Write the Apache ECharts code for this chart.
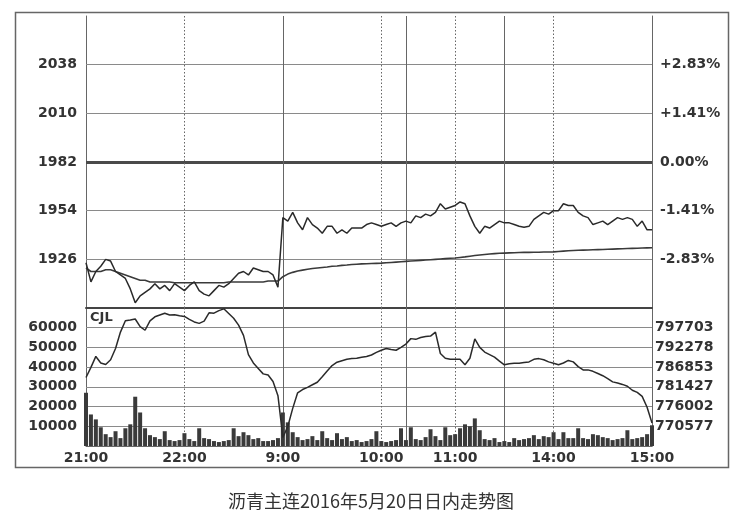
<!DOCTYPE html>
<html>
<head>
<meta charset="utf-8">
<script src="https://cdn.jsdelivr.net/npm/echarts@6/dist/echarts.min.js"></script>
<style>html,body{margin:0;padding:0;background:#fff;}#c{width:755px;height:522px;}</style>
</head>
<body>
<div id="c"></div>
<script>
// ---- sessions (start time, number of 3-minute points) ----
const sessions = [['21:00', 40], ['9:00', 25], ['10:30', 20], ['13:30', 31]];
const stepMin = 3;

// ---- tick labels ----
const xTickLabels = ['21:00', '22:00', '9:00', '10:00', '11:00', '14:00', '15:00'];
const solidLines = ['9:00', '10:30', '13:30'];
const dottedLines = ['22:00', '10:00', '11:00', '14:00'];
const priceTicks = [1926, 1954, 1982, 2010, 2038];
const basePrice = 1982;
const volTicks = [10000, 20000, 30000, 40000, 50000, 60000];
const oiTicks = [770577, 776002, 781427, 786853, 792278, 797703];

// ---- series values (3-minute points) ----
const price = [
1924,1913,1919,1922,1926,1925,1919,1917,1915,1909,
1901,1905,1907,1909,1912,1909,1911,1908,1912,1910,
1908,1911,1913,1908,1906,1905,1908,1911,1910,1912,
1915,1918,1919,1917,1921,1920,1919,1919,1917,1910,
1950,1948,1953,1947,1943,1950,1946,1944,1941,1945,
1945,1941,1943,1941,1944,1944,1944,1946,1947,1946,
1945,1946,1947,1945,1947,1948,1947,1951,1950,1952,
1951,1953,1958,1955,1956,1957,1959,1958,1951,1945,
1941,1945,1944,1946,1948,1947,1947,1946,1945,1944.5,
1945,1949,1951,1953,1952,1954,1954,1958,1957,1957,
1953,1951,1950,1946,1947,1948,1946,1948,1950,1949,
1950,1949,1945,1948,1943,1943
];
const avgPrice = [
1921,1919,1919,1919,1920,1920,1919,1918,1917,1916,
1915,1914,1914,1913,1913,1913,1913,1913,1912.5,1912.5,
1912.5,1912.5,1912.5,1912.5,1912.5,1912.5,1912.5,1912.5,1912.5,1913,
1913,1913,1913,1913,1913,1913,1913,1913.5,1913.5,1913.5,
1916,1917.5,1918.5,1919.3,1919.8,1920.3,1920.7,1921,1921.3,1921.6,
1922,1922.2,1922.5,1922.7,1923,1923.2,1923.4,1923.5,1923.6,1923.7,
1923.8,1924,1924.2,1924.4,1924.6,1924.8,1925,1925.2,1925.4,1925.6,
1925.8,1926,1926.2,1926.4,1926.6,1926.8,1927.1,1927.4,1927.8,1928.2,
1928.5,1928.8,1929.1,1929.3,1929.5,1929.6,1929.7,1929.8,1929.9,1930,
1930,1930.1,1930.1,1930.2,1930.2,1930.3,1930.5,1930.7,1930.9,1931.1,
1931.2,1931.3,1931.4,1931.5,1931.6,1931.7,1931.8,1931.9,1932,1932.1,
1932.2,1932.3,1932.4,1932.5,1932.6,1932.7
];
const volume = [
27000,16000,13500,9500,6000,4500,7500,4000,9000,11000,
25000,17000,9000,5500,4500,3500,7500,3000,2500,3000,
6500,3500,2500,9000,4000,3500,2500,2000,2500,3000,
9000,5000,7000,5500,3500,4000,2500,2500,3000,4000,
17000,12000,7000,4500,3000,3500,5000,3000,7500,4000,
3000,6500,3500,4500,2500,3000,2000,2500,3500,7500,
2500,2000,2500,3000,9000,3000,9500,3500,3000,4500,
8500,5000,3000,9500,5500,6000,9000,11000,10000,14000,
8000,3500,3000,4000,2000,2500,2000,4000,3000,3500,
4000,5500,3500,5000,4500,7000,3500,7000,4000,4000,
9000,4000,3500,6000,5500,4500,4000,3000,3500,4000,
8000,3500,4000,4500,6000,10500
];
const openInterest = [
784000,786800,789800,788000,787600,788900,792000,796500,799600,799800,
800100,798000,797000,799600,800700,801200,801700,801200,801300,801000,
800800,800000,799300,798900,799500,801800,801700,802400,802900,801600,
800300,798400,795600,790300,788000,786500,785000,784700,782900,779000,
767500,770500,775500,779800,780700,781300,782000,782700,784200,785800,
787300,788200,788600,789000,789200,789300,789600,789800,790200,790900,
791500,792000,791700,791500,792300,793200,794700,794500,795000,795300,
795400,796500,790600,789300,789000,789000,789000,787500,789300,794600,
792300,791000,790300,789600,788500,787500,787800,787900,787900,788100,
788300,789000,789200,788900,788300,787900,787500,788000,788700,788300,
787000,786100,786100,785700,785100,784500,783700,782800,782500,782100,
781600,780500,779900,778800,775800,771500
];

// ---- build time categories from the sessions ----
const categories = [];
sessions.forEach(([start, n]) => {
  let [h, m] = start.split(':').map(Number);
  let t = h * 60 + m;
  for (let k = 0; k < n; k++) {
    const mm = t + k * stepMin;
    const hh = Math.floor(mm / 60), mi = mm % 60;
    categories.push(hh + ':' + (mi < 10 ? '0' : '') + mi);
  }
});

const priceStep = priceTicks[1] - priceTicks[0];
const volStep = volTicks[1] - volTicks[0];
const oiStep = (oiTicks[oiTicks.length - 1] - oiTicks[0]) / (oiTicks.length - 1);

const labelFont = { fontFamily: 'DejaVu Sans', fontWeight: 'bold', fontSize: 14, color: '#333' };
const gridLine = { color: '#8a8a8a', width: 1, type: 'solid' };
const vLineSolid = { color: '#666', width: 1, type: 'solid' };
const vLineDot = { color: '#666', width: 1, type: [1.5, 2] };

function vLines() {
  return [
    ...solidLines.map(c => ({ xAxis: categories.indexOf(c), lineStyle: vLineSolid })),
    ...dottedLines.map(c => ({ xAxis: categories.indexOf(c), lineStyle: vLineDot }))
  ];
}

const chart = echarts.init(document.getElementById('c'), null, { renderer: 'canvas' });
const option = {
  animation: false,
  backgroundColor: '#fff',
  grid: [
    { left: 86, top: 16, width: 566, height: 292 },
    { left: 86, top: 308, width: 566, height: 138 }
  ],
  xAxis: [
    {
      type: 'category', gridIndex: 0, data: categories, boundaryGap: false,
      axisLine: { show: true, onZero: false, lineStyle: { color: '#444', width: 2 } },
      axisTick: { show: false }, axisLabel: { show: false }, splitLine: { show: false }
    },
    {
      type: 'category', gridIndex: 1, data: categories, boundaryGap: false,
      axisLine: { show: true, onZero: false, lineStyle: { color: '#666', width: 1 } },
      axisTick: { show: false },
      axisLabel: Object.assign({ interval: (i, v) => xTickLabels.includes(v), margin: 5, hideOverlap: false }, labelFont),
      splitLine: { show: false }
    }
  ],
  yAxis: [
    {
      type: 'value', gridIndex: 0, position: 'left', min: priceTicks[0] - priceStep, max: priceTicks[priceTicks.length - 1] + priceStep, interval: priceStep,
      axisLine: { show: true, lineStyle: { color: '#666' } }, axisTick: { show: false }, splitLine: { show: false },
      axisLabel: Object.assign({ margin: 9, formatter: v => priceTicks.includes(Math.round(v)) ? String(Math.round(v)) : '' }, labelFont)
    },
    {
      type: 'value', gridIndex: 0, position: 'right', min: priceTicks[0] - priceStep, max: priceTicks[priceTicks.length - 1] + priceStep, interval: priceStep,
      axisLine: { show: true, lineStyle: { color: '#666' } }, axisTick: { show: false }, splitLine: { show: false },
      axisLabel: Object.assign({
        margin: 8,
        formatter: v => {
          const r = Math.round(v);
          if (!priceTicks.includes(r)) return '';
          const p = (r - basePrice) / basePrice * 100;
          return (p > 0 ? '+' : '') + p.toFixed(2) + '%';
        }
      }, labelFont)
    },
    {
      type: 'value', gridIndex: 1, position: 'left', min: 0, max: volTicks[volTicks.length - 1] + volStep, interval: volStep,
      axisLine: { show: true, lineStyle: { color: '#666' } }, axisTick: { show: false }, splitLine: { show: false },
      axisLabel: Object.assign({ margin: 9, formatter: v => volTicks.includes(Math.round(v)) ? String(Math.round(v)) : '' }, labelFont)
    },
    {
      type: 'value', gridIndex: 1, position: 'right', min: oiTicks[0] - oiStep, max: oiTicks[oiTicks.length - 1] + oiStep, interval: oiStep,
      axisLine: { show: true, lineStyle: { color: '#666' } }, axisTick: { show: false }, splitLine: { show: false },
      axisLabel: Object.assign({
        margin: 3,
        formatter: v => {
          const t = oiTicks.find(x => Math.abs(x - v) < oiStep / 4);
          return t !== undefined ? String(t) : '';
        }
      }, labelFont)
    }
  ],
  series: [
    {
      name: '均价', type: 'line', xAxisIndex: 0, yAxisIndex: 0, data: avgPrice, symbol: 'none', z: 3,
      lineStyle: { color: '#3a3a3a', width: 1.6 },
      markLine: {
        silent: true, symbol: ['none', 'none'], z: 1, label: { show: false }, animation: false,
        data: [
          ...priceTicks.filter(v => v !== basePrice).map(v => ({ yAxis: v, lineStyle: gridLine })),
          { yAxis: basePrice, lineStyle: { color: '#4a4a4a', width: 3, type: 'solid' } },
          ...vLines()
        ]
      }
    },
    {
      name: '价格', type: 'line', xAxisIndex: 0, yAxisIndex: 0, data: price, symbol: 'none', z: 4,
      lineStyle: { color: '#2a2a2a', width: 1.5 }
    },
    {
      name: '成交量', type: 'bar', xAxisIndex: 1, yAxisIndex: 2, data: volume, barWidth: 4, z: 3,
      itemStyle: { color: '#3a3a3a' },
      markLine: {
        silent: true, symbol: ['none', 'none'], z: 1, label: { show: false }, animation: false,
        data: [
          ...volTicks.map(v => ({ yAxis: v, lineStyle: gridLine })),
          ...vLines()
        ]
      }
    },
    {
      name: '持仓', type: 'line', xAxisIndex: 1, yAxisIndex: 3, data: openInterest, symbol: 'none', z: 4,
      lineStyle: { color: '#2a2a2a', width: 1.5 }
    }
  ],
  graphic: [
    { type: 'rect', shape: { x: 15.5, y: 12.5, width: 713, height: 455 }, style: { fill: 'none', stroke: '#666', lineWidth: 1.5 }, z: 0 },
    { type: 'text', x: 90, y: 311, style: { text: 'CJL', font: 'bold 13px "DejaVu Sans"', fill: '#333' }, z: 10 },
    { type: 'text', x: 371, y: 501, style: { text: '沥青主连2016年5月20日日内走势图', font: '18px "Noto Sans CJK SC"', fill: '#333', textAlign: 'center', textVerticalAlign: 'middle' }, z: 10 }
  ]
};
chart.setOption(option);
</script>
</body>
</html>
